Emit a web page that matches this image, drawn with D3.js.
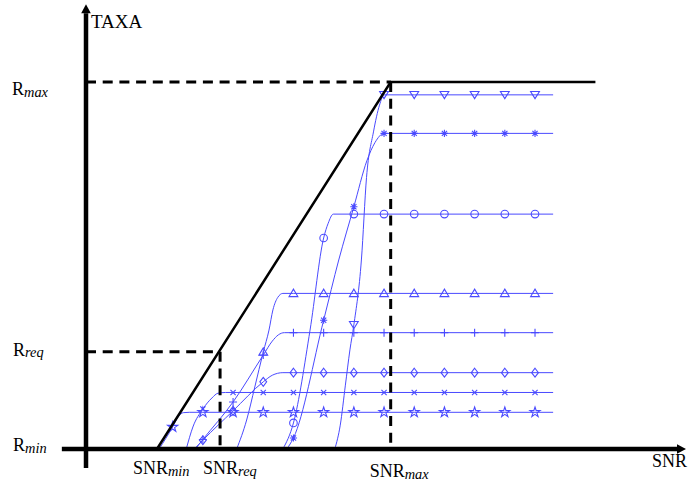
<!DOCTYPE html>
<html><head><meta charset="utf-8">
<script src="https://cdn.jsdelivr.net/npm/d3@7"></script>
<style>
html,body{margin:0;padding:0;background:#fff;}
svg{display:block;font-family:"Liberation Serif","Times New Roman",serif;}
</style></head>
<body>
<svg id="chart" width="691" height="483"></svg>
<script>
// ---- data (SNR in chart units, rate in % of Rmax) ----
const markerSnr = [1,2,3,4,5,6,7,8,9,10,11,12,13];
const snrMin = 0.48, snrReq = 2.57, snrMax = 8.22, snrEnvEnd = 15.0;
const rMin = 0, rReq = 26.5, rMax = 100;
const seriesStar     = [[0.55,0],[1,6],[1.2,9],[1.35,9.9],[1.55,10],[2,10],[3,10],[4,10],[5,10],[6,10],[7,10],[8,10],[9,10],[10,10],[11,10],[12,10],[13,10],[13.6,10]];
const seriesTimes    = [[1.45,0],[1.67,6],[2,10.9],[2.3,13.9],[2.5,15.2],[2.75,15.4],[3,15.4],[4,15.4],[5,15.4],[6,15.4],[7,15.4],[8,15.4],[9,15.4],[10,15.4],[11,15.4],[12,15.4],[13,15.4],[13.6,15.4]];
const seriesDiamond  = [[1.72,0],[2,2.4],[3,10.4],[4,18.3],[4.3,20.1],[4.65,20.8],[5,20.8],[6,20.8],[7,20.8],[8,20.8],[9,20.8],[10,20.8],[11,20.8],[12,20.8],[13,20.8],[13.6,20.8]];
const seriesPlus     = [[1.75,0],[2,2.6],[3,12.8],[4,25.6],[4.3,29.4],[4.5,31.1],[4.7,31.7],[5,31.7],[6,31.7],[7,31.7],[8,31.7],[9,31.7],[10,31.7],[11,31.7],[12,31.7],[13,31.7],[13.6,31.7]];
const seriesTriUp    = [[3.12,0],[3.45,7.9],[3.72,16.9],[4,26.4],[4.19,32.4],[4.32,37.9],[4.48,41.3],[4.65,42.4],[5,42.4],[6,42.4],[7,42.4],[8,42.4],[9,42.4],[10,42.4],[11,42.4],[12,42.4],[13,42.4],[13.6,42.4]];
const seriesCircle   = [[4.65,0],[5,7.1],[5.55,32.4],[6,57.5],[6.15,61.5],[6.32,64],[7,64],[8,64],[9,64],[10,64],[11,64],[12,64],[13,64],[13.6,64]];
const seriesAsterisk = [[4.78,0],[5,3],[6,35.1],[6.5,51.5],[7,66],[7.43,78.5],[7.7,83.5],[8,86],[9,86],[10,86],[11,86],[12,86],[13,86],[13.6,86]];
const seriesTriDown  = [[6.37,0],[6.55,6.5],[6.72,17.4],[6.87,27],[7,33.8],[7.25,51.5],[7.42,74],[7.65,86.4],[7.85,93.7],[8,96.5],[9,96.5],[10,96.5],[11,96.5],[12,96.5],[13,96.5],[13.6,96.5]];
const seriesList = [
  {name:"star", data:seriesStar},
  {name:"times", data:seriesTimes},
  {name:"diamond", data:seriesDiamond},
  {name:"plus", data:seriesPlus},
  {name:"triUp", data:seriesTriUp},
  {name:"circle", data:seriesCircle},
  {name:"asterisk", data:seriesAsterisk},
  {name:"triDown", data:seriesTriDown}
];
// axis extents in data units
const xAxisStart = -2.67, xAxisEnd = 18.0, yAxisBottom = -5.2, yAxisTop = 119;
const yAxisSnr = -1.87;

// ---- scales ----
const x = d3.scaleLinear().domain([-1.87, 18.0]).range([86, 686]);
const y = d3.scaleLinear().domain([0, 100]).range([449, 82]);

const svg = d3.select("#chart");
const blue = "#4a4aff";

// curves
const line = d3.line().x(d=>x(d[0])).y(d=>y(d[1])).curve(d3.curveMonotoneX);
svg.append("g").selectAll("path").data(seriesList).join("path")
  .attr("d", d=>line(d.data)).attr("fill","none").attr("stroke",blue).attr("stroke-width",1);

// markers
const starPath = d3.symbol(d3.symbolStar).size(32)();
const shapes = {
  star: starPath,
  times: "M-2.6,-2.6L2.6,2.6M-2.6,2.6L2.6,-2.6",
  diamond: "M0,-4.4L3.4,0L0,4.4L-3.4,0Z",
  plus: "M-4,0H4M0,-4V4",
  triUp: "M-4.4,3.2L4.4,3.2L0,-4.2Z",
  circle: "M3.8,0A3.8,3.8 0 1,1 -3.8,0A3.8,3.8 0 1,1 3.8,0Z",
  asterisk: "M-3.6,0H3.6M0,-3.6V3.6M-2.6,-2.6L2.6,2.6M-2.6,2.6L2.6,-2.6",
  triDown: "M-4.4,-3.4L4.4,-3.4L0,3.8Z"
};
const mk = svg.append("g");
seriesList.forEach(s=>{
  const pts = s.data.filter(d=>markerSnr.includes(d[0]) && d[1] > 0.5);
  mk.selectAll(null).data(pts).join("path")
    .attr("transform", d=>`translate(${x(d[0])},${y(d[1])})`)
    .attr("d", shapes[s.name]).attr("fill","none").attr("stroke",blue).attr("stroke-width",1.1);
});

// envelope
const env = [[snrMin,rMin],[snrMax,rMax],[snrEnvEnd,rMax]];
svg.append("path").attr("d", d3.line().x(d=>x(d[0])).y(d=>y(d[1]))(env))
  .attr("fill","none").attr("stroke","#000").attr("stroke-width",2.5);

// dashed guides
const dash = "10,6.7";
const guides = [
  [[yAxisSnr,rMax],[snrMax,rMax]],
  [[snrMax,rMax],[snrMax,rMin]],
  [[yAxisSnr,rReq],[snrReq,rReq]],
  [[snrReq,rReq],[snrReq,rMin]]
];
svg.append("g").selectAll("path").data(guides).join("path")
  .attr("d", d=>d3.line().x(p=>x(p[0])).y(p=>y(p[1]))(d))
  .attr("fill","none").attr("stroke","#000").attr("stroke-width",3).attr("stroke-dasharray",dash);

// axes
const ax = svg.append("g");
ax.append("line").attr("x1",x(yAxisSnr)).attr("x2",x(yAxisSnr))
  .attr("y1",y(yAxisBottom)).attr("y2",y(yAxisTop)+1).attr("stroke","#000").attr("stroke-width",4.5);
ax.append("path").attr("d",`M${x(yAxisSnr)},${y(yAxisTop)-8}L${x(yAxisSnr)-4.8},${y(yAxisTop)+1}L${x(yAxisSnr)+4.8},${y(yAxisTop)+1}Z`).attr("fill","#000");
ax.append("line").attr("x1",x(xAxisStart)).attr("x2",x(xAxisEnd)-7)
  .attr("y1",y(0)).attr("y2",y(0)).attr("stroke","#000").attr("stroke-width",4.5);
ax.append("path").attr("d",`M${x(xAxisEnd)},${y(0)}L${x(xAxisEnd)-9},${y(0)-4.8}L${x(xAxisEnd)-9},${y(0)+4.8}Z`).attr("fill","#000");

// labels
function label(xp, yp, main, sub, size){
  const t = svg.append("text").attr("x",xp).attr("y",yp).attr("font-size",size).attr("fill","#000");
  t.append("tspan").text(main);
  if(sub) t.append("tspan").attr("font-style","italic").attr("font-size",size*0.8).attr("dy",1.5).text(sub);
}
label(91, 28, "TAXA", null, 19);
label(12, y(rMax)+13, "R", "max", 18);
label(13, y(rReq)+4, "R", "req", 18);
label(13, y(rMin)+2, "R", "min", 18);
label(x(snrMin)-24, 474, "SNR", "min", 18);
label(x(snrReq)-17, 474, "SNR", "req", 18);
label(x(snrMax)-21, 477, "SNR", "max", 18);
label(652, 467, "SNR", null, 18);
</script>
</body></html>
